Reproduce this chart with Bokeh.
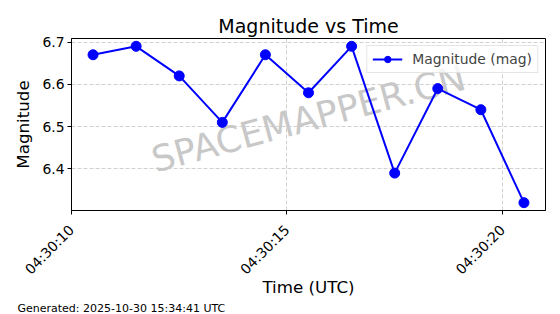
import math
import pandas as pd
from bokeh.plotting import figure
from bokeh.models import Range1d, FixedTicker, Label, Legend, LegendItem, Title
from bokeh.embed import file_html
from bokeh.resources import INLINE

# ---- data ----
times = ["04:30:10.5", "04:30:11.5", "04:30:12.5", "04:30:13.5", "04:30:14.5",
         "04:30:15.5", "04:30:16.5", "04:30:17.5", "04:30:18.5", "04:30:19.5",
         "04:30:20.5"]
magnitudes = [6.67, 6.69, 6.62, 6.51, 6.67, 6.58, 6.69, 6.39, 6.59, 6.54, 6.32]
tick_labels = ["04:30:10", "04:30:15", "04:30:20"]
date = "2025-10-30"
title = "Magnitude vs Time"
x_label = "Time (UTC)"
y_label = "Magnitude"
series_label = "Magnitude (mag)"
footer = "Generated: 2025-10-30 15:34:41 UTC"
watermark = "SPACEMAPPER.CN"

FONT = "DejaVu Sans"

t = pd.to_datetime([f"{date} {s}" for s in times])
x_ms = [ts.value / 1e6 for ts in t]
tick_ms = [pd.Timestamp(f"{date} {s}").value / 1e6 for s in tick_labels]

xmargin = 0.05 * (max(x_ms) - min(x_ms))
ymargin = 0.05 * (max(magnitudes) - min(magnitudes))
x0, x1 = min(x_ms) - xmargin, max(x_ms) + xmargin
y0, y1 = min(magnitudes) - ymargin, max(magnitudes) + ymargin

p = figure(width=560, height=314, output_backend="svg", toolbar_location=None,
           x_range=Range1d(x0, x1), y_range=Range1d(y0, y1),
           min_border_left=71, min_border_right=15, min_border_top=38,
           min_border_bottom=102)
p.background_fill_color = "white"
p.border_fill_color = "white"
p.outline_line_color = "black"
p.outline_line_width = 1

p.title.text = title
p.title.text_font = FONT
p.title.text_font_size = "19px"
p.title.text_font_style = "normal"
p.title.text_color = "black"
p.title.align = "center"
p.title.standoff = 4

# watermark (beneath data)
wm = Label(x=(x0 + x1) / 2, y=(y0 + y1) / 2, text=watermark,
           text_font=FONT, text_font_size="36px", text_color="#c8c8c8",
           text_align="center", text_baseline="middle",
           angle=15, angle_units="deg", level="underlay", y_offset=6)
p.add_layout(wm)

line = p.line(x_ms, magnitudes, line_color="#0000ff", line_width=2)
pts = p.scatter(x_ms, magnitudes, size=10, fill_color="#0000ff", line_color="#0000ff")

legend = Legend(items=[LegendItem(label=series_label, renderers=[line, pts])],
                location="top_right", margin=7, padding=5, spacing=0,
                label_text_font=FONT, label_text_font_size="13.9px",
                glyph_width=30, glyph_height=16, label_standoff=10,
                label_height=16,
                border_line_color="#cccccc", border_line_width=1,
                background_fill_alpha=0.8)
p.add_layout(legend)

# axes
p.xaxis.ticker = FixedTicker(ticks=tick_ms)
p.xaxis.major_label_overrides = {tm: lab for tm, lab in zip(tick_ms, tick_labels)}
p.xaxis.major_label_orientation = math.pi / 4
p.yaxis.ticker = FixedTicker(ticks=[6.4, 6.5, 6.6, 6.7])

for ax in (p.xaxis[0], p.yaxis[0]):
    ax.axis_line_color = "black"
    ax.major_tick_line_color = "black"
    ax.major_tick_out = 4
    ax.major_tick_in = 0
    ax.minor_tick_line_color = None
    ax.major_label_text_font = FONT
    ax.major_label_text_font_size = "13.9px"
    ax.major_label_text_color = "black"
    ax.axis_label_text_font = FONT
    ax.axis_label_text_font_size = "16.7px"
    ax.axis_label_text_font_style = "normal"
    ax.axis_label_text_color = "black"
    ax.major_label_standoff = 3

p.xaxis.major_label_standoff = 13
p.xaxis.axis_label = x_label
p.yaxis.axis_label = y_label
p.xaxis.axis_label_standoff = -9
p.yaxis.axis_label_standoff = 6

p.grid.grid_line_color = "#b0b0b0"
p.grid.grid_line_alpha = 0.6
p.grid.grid_line_dash = "4 2"
p.grid.grid_line_width = 1

foot = Title(text=footer, align="left", offset=-54, text_font=FONT,
             text_font_size="11px", text_font_style="normal",
             text_color="black", standoff=0, text_line_height=0.8)
p.add_layout(foot, "below")

open("out.html", "w").write(file_html(p, INLINE))
